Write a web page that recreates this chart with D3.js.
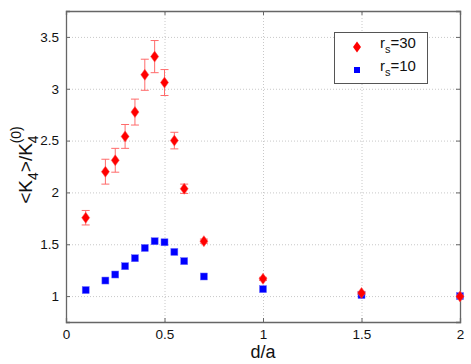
<!DOCTYPE html>
<html lang="en">
  <head>
    <meta charset="utf-8">
    <title>K4 ratio vs d/a</title>
    <script src="https://d3js.org/d3.v7.min.js"></script>
    <style>
      body { margin: 0; background: #fff; }
      svg { font-family: "Liberation Sans", Arial, sans-serif; }
    </style>
  </head>
  <body>
    <div id="chart"></div>
    <script>
      // data
      var dA = [0.1, 0.2, 0.25, 0.3, 0.35, 0.4, 0.45, 0.5, 0.55, 0.6, 0.7, 1.0, 1.5, 2.0];
      var k30 = [1.756, 2.20, 2.31, 2.54, 2.775, 3.135, 3.31, 3.06, 2.50, 2.035, 1.53, 1.166, 1.03, 0.997];
      var err30 = [0.07, 0.12, 0.115, 0.115, 0.125, 0.15, 0.155, 0.125, 0.08, 0.045, 0.02, 0.015, 0.015, 0.01];
      var k10 = [1.058, 1.15, 1.208, 1.288, 1.365, 1.464, 1.529, 1.519, 1.426, 1.337, 1.189, 1.067, 1.01, 1.0];
      var xTicks = [0, 0.5, 1, 1.5, 2];
      var yTicks = [1, 1.5, 2, 2.5, 3, 3.5];

      var W = 471, H = 364;
      var svg = d3.select("#chart").append("svg").attr("width", W).attr("height", H);

      var x = d3.scaleLinear().domain([0, 2]).range([66, 460]);
      var y = d3.scaleLinear().domain([0.75, 3.75]).range([322, 11]);

      // dotted grid
      var grid = svg.append("g").attr("stroke", "#c8c8c8").attr("stroke-dasharray", "1,2");
      grid.selectAll(".gx").data(xTicks.slice(1, -1)).enter().append("line")
        .attr("x1", d => x(d) + 0.5).attr("x2", d => x(d) + 0.5)
        .attr("y1", y.range()[0]).attr("y2", y.range()[1]);
      grid.selectAll(".gy").data(yTicks).enter().append("line")
        .attr("x1", x.range()[0]).attr("x2", x.range()[1])
        .attr("y1", d => y(d) + 0.5).attr("y2", d => y(d) + 0.5);

      // axes with inward ticks
      var axB = d3.axisBottom(x).tickValues(xTicks).tickSize(-4).tickPadding(7).tickFormat(d3.format("~g"));
      var axT = d3.axisTop(x).tickValues(xTicks).tickSize(-4).tickFormat("");
      var axL = d3.axisLeft(y).tickValues(yTicks).tickSize(-4).tickPadding(7).tickFormat(d3.format("~g"));
      var axR = d3.axisRight(y).tickValues(yTicks).tickSize(-4).tickFormat("");

      [[axB, "translate(0," + y.range()[0] + ")"], [axT, "translate(0," + y.range()[1] + ")"],
       [axL, "translate(" + x.range()[0] + ",0)"], [axR, "translate(" + x.range()[1] + ",0)"]]
        .forEach(function (a) {
          var g = svg.append("g").attr("transform", a[1]).call(a[0]);
          g.select(".domain").attr("stroke", "#666").attr("stroke-width", 1.3);
          g.selectAll(".tick line").attr("stroke", "#666");
          g.selectAll("text").attr("font-size", 13.5).attr("fill", "#111")
            .attr("font-family", "Liberation Sans, Arial, sans-serif");
        });

      // error bars for r_s=30
      var eb = svg.append("g").attr("stroke", "#ff6b6b").attr("stroke-width", 1);
      dA.forEach(function (d, i) {
        var cx = x(d), lo = y(k30[i] - err30[i]), hi = y(k30[i] + err30[i]);
        eb.append("line").attr("x1", cx).attr("x2", cx).attr("y1", lo).attr("y2", hi);
        eb.append("line").attr("x1", cx - 4).attr("x2", cx + 4).attr("y1", lo).attr("y2", lo);
        eb.append("line").attr("x1", cx - 4).attr("x2", cx + 4).attr("y1", hi).attr("y2", hi);
      });

      var diamond = "M0,-5.5L4,0L0,5.5L-4,0Z";

      // r_s=10 squares
      svg.append("g").selectAll("rect").data(dA).enter().append("rect")
        .attr("x", d => x(d) - 3.5).attr("y", (d, i) => y(k10[i]) - 3.5)
        .attr("width", 7).attr("height", 7)
        .attr("fill", "#0000ff").attr("stroke", "#6a6aff").attr("stroke-width", 0.5);

      // r_s=30 diamonds
      svg.append("g").selectAll("path").data(dA).enter().append("path")
        .attr("transform", (d, i) => "translate(" + x(d) + "," + y(k30[i]) + ")")
        .attr("d", diamond).attr("fill", "#ff0000").attr("stroke", "#ff5050").attr("stroke-width", 0.5);

      // legend
      var lg = svg.append("g");
      lg.append("rect").attr("x", 334.5).attr("y", 32.5).attr("width", 93).attr("height", 51)
        .attr("fill", "#fff").attr("stroke", "#555").attr("stroke-width", 1);
      lg.append("path").attr("transform", "translate(357,47)").attr("d", diamond).attr("fill", "#ff0000");
      lg.append("rect").attr("x", 354).attr("y", 67).attr("width", 6).attr("height", 6).attr("fill", "#0000ff");
      [["=30", 48], ["=10", 71]].forEach(function (t) {
        var tx = lg.append("text").attr("x", 380).attr("y", t[1]).attr("font-size", 15).attr("fill", "#111");
        tx.append("tspan").text("r");
        tx.append("tspan").attr("font-size", 11).attr("dy", 5).text("s");
        tx.append("tspan").attr("dy", -5).text(t[0]);
      });

      // axis labels
      svg.append("text").attr("x", x(1)).attr("y", 358).attr("text-anchor", "middle")
        .attr("font-size", 18).attr("fill", "#111").text("d/a");

      var yl = svg.append("text").attr("transform", "translate(32,165) rotate(-90)")
        .attr("text-anchor", "middle").attr("font-size", 19).attr("fill", "#111");
      yl.append("tspan").text("<K");
      yl.append("tspan").attr("font-size", 14).attr("dy", 6).text("4");
      yl.append("tspan").attr("dy", -6).text(">/K");
      yl.append("tspan").attr("font-size", 14).attr("dy", 6).text("4");
      yl.append("tspan").attr("font-size", 14).attr("dx", -8).attr("dy", -17).text("(0)");
    </script>
  </body>
</html>
